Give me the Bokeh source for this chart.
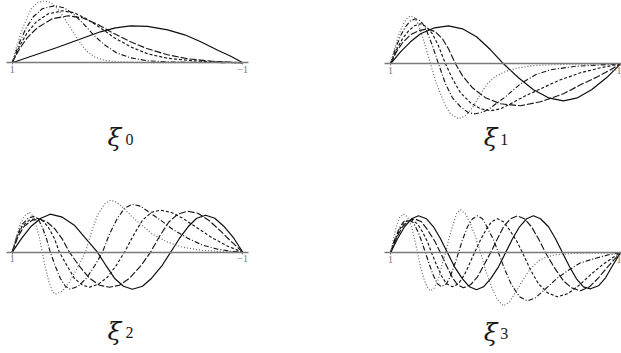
from bokeh.plotting import figure
from bokeh.models import Range1d, LinearAxis, FixedTicker
from bokeh.layouts import row, column
from bokeh.core.properties import value
from bokeh.embed import file_html
from bokeh.resources import INLINE

# ---------------- data (x in [1,-1], amplitude in arbitrary units) ----------------
# xi_0
x0_dot = [1, 0.965, 0.930, 0.887, 0.835, 0.783, 0.722, 0.661, 0.600, 0.539, 0.478, 0.417, 0.357, 0.287, 0.200, 0.087, -0.130, -1]
y0_dot = [0, 15, 28, 41, 54, 60, 62, 60, 53, 43, 32, 21, 12, 6, 2.5, 1, 0.3, 0]
x0_dd = [1, 0.965, 0.930, 0.878, 0.817, 0.739, 0.635, 0.548, 0.461, 0.374, 0.287, 0.200, 0.096, -0.026, -0.174, -0.391, -1]
y0_dd = [0, 11, 22, 35, 46, 54, 57, 55, 48, 38, 27, 18, 10, 5, 2, 0.7, 0]
x0_da = [1, 0.965, 0.930, 0.870, 0.791, 0.687, 0.565, 0.461, 0.357, 0.235, 0.113, -0.026, -0.174, -0.348, -0.565, -0.783, -1]
y0_da = [0, 9, 18, 30, 41, 49, 52, 50, 44, 35, 25, 16, 9, 4.5, 2, 0.8, 0]
x0_ld = [1, 0.965, 0.930, 0.870, 0.783, 0.652, 0.513, 0.391, 0.252, 0.113, -0.026, -0.174, -0.348, -0.522, -0.739, -1]
y0_ld = [0, 8, 15, 25, 35, 44, 47, 45, 38, 29, 21, 14, 8, 4, 1.5, 0]
x0_so = [1, 0.809, 0.617, 0.426, 0.235, 0.104, -0.026, -0.174, -0.348, -0.496, -0.635, -0.783, -0.896, -1]
y0_so = [0, 7.5, 15, 23, 31, 35, 37, 36.5, 33, 28, 21, 12.5, 6.5, 0]

# xi_1
x1_dot = [1, 0.965, 0.930, 0.896, 0.861, 0.826, 0.791, 0.757, 0.713, 0.652, 0.609, 0.565, 0.522, 0.478, 0.409, 0.348, 0.287, 0.217, 0.157, 0.104, 0.043, -0.017, -0.113, -0.217, -0.478, -1]
y1_dot = [0, 15, 28, 38, 45, 48, 46, 39, 24, 0, -17, -30, -42, -50, -55, -52, -44, -30, -20, -14, -10, -7, -4, -2, -0.5, 0]
x1_dd = [1, 0.957, 0.913, 0.870, 0.826, 0.783, 0.739, 0.696, 0.635, 0.583, 0.522, 0.461, 0.391, 0.322, 0.261, 0.191, 0.130, 0, -0.130, -0.261, -0.391, -0.609, -1]
y1_dd = [0, 15, 28, 37, 43, 45, 43, 36, 18, 0, -20, -34, -43, -49, -50, -48, -44, -33, -20, -11, -6, -2.5, 0]
x1_da = [1, 0.948, 0.896, 0.843, 0.791, 0.739, 0.687, 0.635, 0.583, 0.522, 0.461, 0.391, 0.304, 0.217, 0.130, 0.043, -0.043, -0.174, -0.304, -0.478, -0.652, -0.826, -1]
y1_da = [0, 14, 25, 33, 38, 40, 37, 30, 18, 0, -15, -29, -39, -45, -47, -45, -40, -32, -25, -16, -9, -4, 0]
x1_ld = [1, 0.948, 0.896, 0.826, 0.757, 0.678, 0.609, 0.548, 0.496, 0.435, 0.374, 0.287, 0.174, 0.043, -0.130, -0.304, -0.504, -0.652, -0.800, -0.913, -1]
y1_ld = [0, 12, 21, 29, 33, 35, 32, 25, 15, 0, -12, -24, -34, -40, -42, -38, -30, -21, -13, -6, 0]
x1_so = [1, 0.913, 0.826, 0.739, 0.617, 0.496, 0.374, 0.252, 0.130, 0.017, -0.113, -0.243, -0.374, -0.504, -0.626, -0.748, -0.878, -1]
y1_so = [0, 12, 22, 30, 36, 38, 35, 27, 14, 0, -14, -26, -34, -37, -34, -26, -14, 0]

# xi_2
x2_dot = [1, 0.965, 0.930, 0.896, 0.852, 0.826, 0.796, 0.765, 0.739, 0.713, 0.683, 0.652, 0.626, 0.565, 0.504, 0.435, 0.365, 0.313, 0.261, 0.200, 0.148, 0.096, 0.026, -0.043, -0.113, -0.217, -0.348, -0.478, -0.635, -0.826, -1]
y2_dot = [0, 15, 28, 36, 40, 37, 28, 15, 0, -15, -29, -39, -42, -39, -30, -16, 0, 20, 37, 48, 52, 50, 43, 35, 28, 18, 10, 5, 2, 0.5, 0]
x2_dd = [1, 0.957, 0.913, 0.861, 0.809, 0.774, 0.739, 0.704, 0.670, 0.626, 0.583, 0.539, 0.496, 0.426, 0.357, 0.287, 0.217, 0.157, 0.087, 0.026, -0.043, -0.113, -0.200, -0.287, -0.391, -0.522, -0.652, -0.783, -0.896, -1]
y2_dd = [0, 17, 28, 34, 36, 33, 25, 14, 0, -14, -26, -34, -37, -34, -26, -14, 0, 18, 34, 44, 48, 46, 39, 32, 23, 14, 7, 3, 1, 0]
x2_da = [1, 0.957, 0.913, 0.852, 0.783, 0.730, 0.687, 0.635, 0.591, 0.522, 0.461, 0.391, 0.330, 0.252, 0.174, 0.096, 0.026, -0.052, -0.130, -0.209, -0.287, -0.374, -0.478, -0.609, -0.739, -0.870, -1]
y2_da = [0, 16, 26, 32, 34, 31, 25, 14, 0, -14, -26, -33, -35, -32, -25, -13, 0, 17, 32, 40, 42, 40, 34, 24, 14, 6, 0]
x2_ld = [1, 0.948, 0.896, 0.826, 0.757, 0.696, 0.635, 0.565, 0.504, 0.417, 0.330, 0.243, 0.157, 0.070, -0.017, -0.113, -0.200, -0.278, -0.357, -0.435, -0.522, -0.609, -0.704, -0.800, -0.896, -1]
y2_ld = [0, 16, 26, 32, 33, 30, 24, 13, 0, -14, -26, -33, -35, -33, -26, -14, 0, 16, 30, 38, 41, 39, 32, 22, 11, 0]
x2_so = [1, 0.917, 0.835, 0.752, 0.670, 0.565, 0.461, 0.365, 0.261, 0.183, 0.113, 0.035, -0.043, -0.130, -0.209, -0.296, -0.374, -0.452, -0.530, -0.600, -0.678, -0.757, -0.835, -0.922, -1]
y2_so = [0, 14, 26, 34, 38, 35, 27, 14, 0, -14, -26, -34, -37, -34, -26, -14, 0, 14, 26, 34, 37, 34, 26, 14, 0]

# xi_3
x3_dot = [1, 0.974, 0.948, 0.922, 0.887, 0.852, 0.817, 0.791, 0.765, 0.739, 0.704, 0.678, 0.652, 0.617, 0.583, 0.557, 0.522, 0.487, 0.452, 0.426, 0.391, 0.348, 0.304, 0.261, 0.217, 0.174, 0.122, 0.070, 0.017, -0.035, -0.096, -0.157, -0.217, -0.287, -0.357, -0.435, -0.609, -1]
y3_dot = [0, 14, 27, 35, 39, 36, 26, 14, 0, -14, -28, -35, -38, -35, -26, -14, 0, 16, 30, 39, 43, 39, 29, 16, 0, -17, -34, -47, -53, -49, -38, -26, -16, -8, -4, -2, -0.5, 0]
x3_dd = [1, 0.965, 0.922, 0.887, 0.843, 0.800, 0.757, 0.722, 0.696, 0.661, 0.626, 0.591, 0.557, 0.513, 0.478, 0.443, 0.409, 0.374, 0.330, 0.287, 0.243, 0.200, 0.157, 0.104, 0.061, 0.009, -0.052, -0.122, -0.191, -0.261, -0.348, -0.443, -0.539, -0.652, -0.800, -0.896, -1]
y3_dd = [0, 13, 25, 31, 33, 30, 20, 9, 0, -12, -23, -31, -34, -31, -23, -12, 0, 13, 26, 34, 37, 34, 25, 13, 0, -16, -32, -44, -48, -45, -36, -26, -18, -10, -5, -2, 0]
x3_da = [1, 0.957, 0.913, 0.870, 0.817, 0.765, 0.722, 0.678, 0.643, 0.600, 0.557, 0.513, 0.461, 0.409, 0.357, 0.313, 0.270, 0.217, 0.165, 0.122, 0.070, 0.017, -0.035, -0.096, -0.148, -0.217, -0.287, -0.365, -0.452, -0.539, -0.635, -0.739, -0.843, -0.930, -1]
y3_da = [0, 14, 25, 31, 33, 29, 21, 11, 0, -12, -23, -31, -34, -31, -22, -11, 0, 13, 24, 31, 34, 31, 23, 12, 0, -17, -31, -40, -44, -41, -33, -22, -12, -5, 0]
x3_ld = [1, 0.948, 0.896, 0.843, 0.791, 0.730, 0.678, 0.617, 0.565, 0.513, 0.461, 0.417, 0.365, 0.304, 0.243, 0.191, 0.130, 0.070, 0.017, -0.043, -0.104, -0.165, -0.226, -0.287, -0.348, -0.426, -0.504, -0.574, -0.652, -0.730, -0.809, -0.896, -1]
y3_ld = [0, 15, 26, 32, 34, 31, 23, 12, 0, -13, -25, -32, -35, -32, -24, -13, 0, 14, 26, 34, 37, 34, 26, 14, 0, -15, -28, -35, -38, -34, -25, -13, 0]
x3_so = [1, 0.939, 0.878, 0.817, 0.757, 0.687, 0.626, 0.565, 0.504, 0.443, 0.374, 0.313, 0.252, 0.191, 0.130, 0.061, 0, -0.061, -0.122, -0.183, -0.243, -0.304, -0.374, -0.435, -0.496, -0.557, -0.617, -0.678, -0.739, -0.809, -0.870, -0.930, -1]
y3_so = [0, 14, 26, 34, 37, 34, 26, 14, 0, -14, -26, -34, -37, -34, -26, -14, 0, 14, 26, 34, 37, 34, 26, 14, 0, -14, -26, -34, -36, -33, -25, -13, 0]

tick_values = [1, -1]
subscripts = ["0", "1", "2", "3"]

# ---------------- styling ----------------
STY = {
    "dot": dict(line_color="#666666", line_dash="1 2", line_width=1.2),
    "dd": dict(line_color="#151515", line_dash="5 2 1 2", line_width=1.15),
    "da": dict(line_color="#151515", line_dash="3 2", line_width=1.15),
    "ld": dict(line_color="#151515", line_dash="7 2", line_width=1.15),
    "so": dict(line_color="#0d0d0d", line_width=1.2),
}


def panel(width, height, xr, yr, curves, sub, xi_x, sub_x, base_y):
    p = figure(width=width, height=height, x_range=Range1d(*xr), y_range=Range1d(*yr),
               output_backend="svg", toolbar_location=None, min_border=0,
               x_axis_type=None, y_axis_type=None, outline_line_color=None,
               background_fill_color="white", border_fill_color="white")
    ax = LinearAxis(fixed_location=0, ticker=FixedTicker(ticks=tick_values),
                    bounds=(-1.05, 1.05))
    ax.axis_line_color = "#7a7a7a"
    ax.axis_line_width = 1.6
    ax.major_tick_out = 2
    ax.major_tick_in = 0
    ax.minor_tick_out = 0
    ax.minor_tick_in = 0
    ax.major_tick_line_color = "#7a7a7a"
    ax.major_label_standoff = 1
    ax.major_label_text_font = "Liberation Serif"
    ax.major_label_text_font_size = "10px"
    ax.major_label_text_color = "#777777"
    p.add_layout(ax, "below")
    for key, (xs, ys) in curves.items():
        p.line(xs, ys, **STY[key])
    p.text(x=[xi_x], y=[base_y], text=["ξ"], text_font=value("DejaVu Serif"),
           text_font_style="italic", text_font_size="25px", text_color="#1a1a1a",
           text_baseline="alphabetic", text_align="left")
    p.text(x=[sub_x], y=[base_y - 1.5], text=[sub], text_font=value("Liberation Serif"),
           text_font_size="16px", text_color="#1a1a1a",
           text_baseline="alphabetic", text_align="left")
    return p


p1 = panel(310, 176, (1.1015, -1.587), (-113.7, 62.3),
           {"so": (x0_so, y0_so), "ld": (x0_ld, y0_ld), "da": (x0_da, y0_da),
            "dd": (x0_dd, y0_dd), "dot": (x0_dot, y0_dot)},
           subscripts[0], 0.1735, 0.018, -74.7)
p2 = panel(311, 176, (1.6957, -1.0087), (-112.7, 63.3),
           {"so": (x1_so, y1_so), "ld": (x1_ld, y1_ld), "da": (x1_da, y1_da),
            "dd": (x1_dd, y1_dd), "dot": (x1_dot, y1_dot)},
           subscripts[1], 0.19, 0.045, -74.0)
p3 = panel(310, 177, (1.1015, -1.587), (-101.3, 75.7),
           {"so": (x2_so, y2_so), "ld": (x2_ld, y2_ld), "da": (x2_da, y2_da),
            "dd": (x2_dd, y2_dd), "dot": (x2_dot, y2_dot)},
           subscripts[2], 0.1735, 0.018, -78.8)
p4 = panel(311, 177, (1.6957, -1.0087), (-100.7, 76.3),
           {"so": (x3_so, y3_so), "ld": (x3_ld, y3_ld), "da": (x3_da, y3_da),
            "dd": (x3_dd, y3_dd), "dot": (x3_dot, y3_dot)},
           subscripts[3], 0.19, 0.045, -79.2)

layout = column(row(p1, p2, spacing=0), row(p3, p4, spacing=0), spacing=0)

open("out.html", "w").write(file_html(layout, INLINE))
